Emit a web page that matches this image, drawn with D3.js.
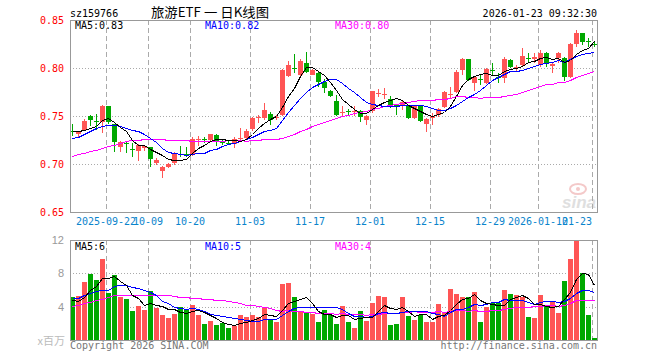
<!DOCTYPE html>
<html>
<head>
<meta charset="utf-8">
<script src="https://cdn.jsdelivr.net/npm/d3@7"></script>
<style>
  body { margin: 0; background: #fff; }
  text { font-family: "DejaVu Sans Mono", monospace; font-size: 10px; }
</style>
</head>
<body>
<svg id="chart" width="660" height="360"></svg>
<script>
// trading days shown on the chart
const dates = [
  '2025-09-12','2025-09-15','2025-09-16','2025-09-17','2025-09-18','2025-09-19',
  '2025-09-22','2025-09-23','2025-09-24','2025-09-25','2025-09-26','2025-09-29','2025-09-30',
  '2025-10-09','2025-10-10','2025-10-13','2025-10-14','2025-10-15','2025-10-16','2025-10-17',
  '2025-10-20','2025-10-21','2025-10-22','2025-10-23','2025-10-24','2025-10-27','2025-10-28','2025-10-29','2025-10-30','2025-10-31',
  '2025-11-03','2025-11-04','2025-11-05','2025-11-06','2025-11-07','2025-11-10','2025-11-11','2025-11-12','2025-11-13','2025-11-14',
  '2025-11-17','2025-11-18','2025-11-19','2025-11-20','2025-11-21','2025-11-24','2025-11-25','2025-11-26','2025-11-27','2025-11-28',
  '2025-12-01','2025-12-02','2025-12-03','2025-12-04','2025-12-05','2025-12-08','2025-12-09','2025-12-10','2025-12-11','2025-12-12',
  '2025-12-15','2025-12-16','2025-12-17','2025-12-18','2025-12-19','2025-12-22','2025-12-23','2025-12-24','2025-12-25','2025-12-26',
  '2025-12-29','2025-12-30','2025-12-31','2026-01-05','2026-01-06','2026-01-07','2026-01-08','2026-01-09',
  '2026-01-12','2026-01-13','2026-01-14','2026-01-15','2026-01-16','2026-01-19','2026-01-20','2026-01-21','2026-01-22',
  '2026-01-23'
];

const open = [
  0.734,0.731,0.7354,0.750,0.7445,0.744,0.760,0.7415,0.718,0.7222,
  0.716,0.7136,0.7168,0.718,0.7007,0.693,0.6965,0.7007,0.7105,0.710,
  0.7105,0.7258,0.7265,0.725,0.7305,0.723,0.7222,0.7212,0.7262,0.727,
  0.736,0.748,0.748,0.7524,0.7486,0.7514,0.792,0.8005,0.793,0.8052,
  0.793,0.7948,0.785,0.7764,0.7653,0.7538,0.7552,0.7549,0.7549,0.7462,
  0.7549,0.7738,0.7725,0.7677,0.761,0.760,0.760,0.7479,0.760,0.7417,
  0.7476,0.751,0.759,0.7725,0.7753,0.798,0.809,0.7847,0.7885,0.7847,
  0.7975,0.7906,0.7892,0.8083,0.800,0.8031,0.8102,0.809,0.8031,0.8153,
  0.8021,0.810,0.810,0.7903,0.825,0.8361,0.8278,0.8253
];
const high = [
  0.742,0.734,0.7465,0.751,0.752,0.7615,0.7605,0.742,0.7235,0.723,
  0.7215,0.7205,0.7192,0.718,0.7065,0.6975,0.701,0.7125,0.719,0.718,
  0.7278,0.729,0.7285,0.7315,0.731,0.725,0.7235,0.728,0.7375,0.7365,
  0.749,0.7515,0.7635,0.754,0.7514,0.799,0.807,0.815,0.8094,0.8163,
  0.7985,0.7955,0.789,0.7775,0.7722,0.7608,0.7573,0.7608,0.756,0.751,
  0.7757,0.778,0.7792,0.7712,0.7618,0.7653,0.7608,0.7608,0.7608,0.7476,
  0.7528,0.758,0.7764,0.7806,0.798,0.810,0.8097,0.7917,0.7927,0.7997,
  0.805,0.7951,0.8118,0.809,0.8031,0.8205,0.8153,0.8153,0.8188,0.817,
  0.8066,0.817,0.8118,0.826,0.8396,0.8368,0.8309,0.8285
];
const low = [
  0.729,0.728,0.7344,0.740,0.7354,0.7326,0.742,0.713,0.7125,0.711,
  0.7076,0.7034,0.714,0.6965,0.699,0.6857,0.6955,0.699,0.707,0.707,
  0.7085,0.719,0.722,0.7225,0.719,0.720,0.7205,0.7167,0.725,0.7253,
  0.734,0.7427,0.746,0.741,0.7462,0.7504,0.7906,0.7948,0.792,0.7948,
  0.7925,0.780,0.774,0.770,0.7497,0.7503,0.7514,0.7503,0.7434,0.741,
  0.7531,0.7698,0.7677,0.7583,0.7514,0.7559,0.7469,0.7469,0.7434,0.7337,
  0.7406,0.7493,0.758,0.7684,0.7743,0.7927,0.7868,0.7764,0.7823,0.7833,
  0.7927,0.784,0.784,0.7997,0.7962,0.8014,0.8056,0.8049,0.8014,0.8014,
  0.7944,0.8049,0.7868,0.7892,0.8222,0.824,0.8222,0.8222
];
const close = [
  0.733,0.733,0.745,0.7455,0.744,0.760,0.744,0.723,0.7225,0.7212,
  0.7148,0.7196,0.7188,0.705,0.7045,0.6972,0.700,0.7118,0.7098,0.7095,
  0.7265,0.7265,0.7258,0.731,0.7225,0.7222,0.7218,0.7264,0.7268,0.7347,
  0.748,0.749,0.7566,0.7455,0.7492,0.7976,0.8035,0.7998,0.8076,0.7958,
  0.7976,0.785,0.7792,0.7705,0.7514,0.7545,0.7547,0.7555,0.749,0.7503,
  0.7757,0.7742,0.7731,0.7608,0.7605,0.7642,0.7479,0.760,0.7444,0.7465,
  0.750,0.757,0.7753,0.7732,0.7962,0.809,0.7875,0.7903,0.788,0.7986,
  0.797,0.790,0.809,0.8007,0.8007,0.8125,0.8098,0.8118,0.8153,0.8056,
  0.8042,0.8153,0.7903,0.825,0.8361,0.8274,0.827,0.8247
];
// volume, millions
const volume = [
  5.12,5.32,6.92,7.96,7.16,9.68,5.68,7.76,5.12,4.96,
  3.52,4.04,3.64,5.84,3.8,2.96,2.6,3.16,4.0,3.64,
  4.16,3.04,1.92,2.32,1.76,2.0,1.48,1.64,3.04,2.72,
  3.04,2.8,3.8,2.56,2.2,6.68,6.8,5.2,3.52,3.36,
  3.16,2.12,3.64,3.04,1.96,4.12,2.2,1.48,3.52,2.32,
  4.48,5.32,5.2,1.84,1.96,5.2,2.92,2.44,3.0,2.2,
  2.12,4.36,3.28,6.16,5.56,5.12,5.12,5.8,2.2,4.0,
  4.48,4.48,6.04,5.56,5.44,5.2,2.8,2.68,5.44,4.24,
  4.72,3.28,7.12,9.68,11.84,8.08,3.04,0.28
];

// MA values at the left edge (they depend on days before the window)
const ma5Head = [0.734,0.7345,0.7358,0.738];
const ma10Head = [0.7267,0.7285,0.731,0.734,0.737,0.7395,0.7406,0.7403,0.7395];
const ma30Head = [
  0.7087,0.7103,0.7119,0.7135,0.7151,0.7167,0.7185,0.7203,0.7222,0.7235,
  0.7247,0.7255,0.726,0.726,0.726,0.7258,0.7252,0.7248,0.7245,0.7245,
  0.7243,0.7243,0.7243,0.7243,0.7243,0.7243,0.7245,0.7247,0.725
];
const vma5Head = [4.8,4.7,5.2,6.0];
const vma10Head = [5.0,5.1,5.35,5.7,5.85,6.0,6.05,6.5,6.6];
const vma30Head = [
  4.1,4.25,4.4,4.55,4.75,4.95,5.15,5.35,5.45,5.45,
  5.45,5.45,5.45,5.45,5.42,5.38,5.35,5.3,5.22,5.15,
  5.08,5.0,4.95,4.88,4.82,4.75,4.65,4.55,4.45
];

const priceTicks = [0.65, 0.70, 0.75, 0.80, 0.85];
const volTicks = [4, 8, 12];
const dateTicks = ['2025-09-22','2025-10-09','2025-10-20','2025-11-03','2025-11-17',
  '2025-12-01','2025-12-15','2025-12-29','2026-01-12','2026-01-23'];

const RED = '#ff5555', GREEN = '#00a800';
const left = 70, right = 598;
const mainTop = 20, mainBottom = 212;
const volTop = 240, volBottom = 340;

function movingAvg(values, n, head) {
  return values.map((v, i) => i < head.length ? head[i] : d3.mean(values.slice(i - n + 1, i + 1)));
}

const svg = d3.select('#chart');

const x = d3.scaleBand().domain(dates).range([left, right]);
const y = d3.scaleLinear().domain([0.65, 0.85]).range([mainBottom, mainTop]);
const yv = d3.scaleLinear().domain([0, 12]).range([volBottom, volTop]);

const bars = dates.map((d, i) => ({ d, o: open[i], h: high[i], l: low[i], c: close[i], v: volume[i] }));
const colorOf = b => b.c >= b.o ? RED : GREEN;
const px = v => Math.round(v);

// watermark
const wm = svg.append('g').attr('opacity', 0.9);
wm.append('ellipse').attr('cx', 578).attr('cy', 189).attr('rx', 8).attr('ry', 5)
  .attr('fill', 'none').attr('stroke', '#f3c4c4').attr('stroke-width', 2);
wm.append('circle').attr('cx', 578).attr('cy', 189).attr('r', 2).attr('fill', '#f3c4c4');
wm.append('text').attr('x', 562).attr('y', 208).text('sina')
  .style('font-family', 'Liberation Sans, sans-serif').style('font-size', '17px')
  .style('font-style', 'italic').style('font-weight', 'bold').attr('fill', '#dcdcdc');

// grid lines
function grid(top, bottom, yScale, ticks) {
  const g = svg.append('g').attr('shape-rendering', 'crispEdges');
  g.selectAll('line.v').data(dateTicks).join('line')
    .attr('x1', d => x(d) + 0.5).attr('x2', d => x(d) + 0.5)
    .attr('y1', top).attr('y2', bottom)
    .attr('stroke', '#aaa').attr('stroke-dasharray', '5,3');
  g.selectAll('line.h').data(ticks).join('line')
    .attr('x1', left).attr('x2', right - 1)
    .attr('y1', d => px(yScale(d)) + 0.5).attr('y2', d => px(yScale(d)) + 0.5)
    .attr('stroke', '#aaa').attr('stroke-dasharray', '1,2');
}
grid(mainTop, mainBottom, y, [0.70, 0.75, 0.80]);
grid(volTop, volBottom, yv, [4, 8]);

// candles
const cg = svg.append('g').attr('shape-rendering', 'crispEdges');
cg.selectAll('rect.wick').data(bars).join('rect')
  .attr('x', b => x(b.d) + 2).attr('width', 1)
  .attr('y', b => px(y(b.h)))
  .attr('height', b => Math.max(1, px(y(b.l)) - px(y(b.h))))
  .attr('fill', colorOf);
cg.selectAll('rect.body').data(bars).join('rect')
  .attr('x', b => x(b.d)).attr('width', x.bandwidth() - 1)
  .attr('y', b => px(y(Math.max(b.o, b.c))))
  .attr('height', b => Math.max(1, px(y(Math.min(b.o, b.c))) - px(y(Math.max(b.o, b.c)))))
  .attr('fill', colorOf);

// volume bars
cg.selectAll('rect.vol').data(bars).join('rect')
  .attr('x', b => x(b.d)).attr('width', x.bandwidth() - 1)
  .attr('y', b => px(yv(b.v)))
  .attr('height', b => volBottom - px(yv(b.v)))
  .attr('fill', colorOf);

// moving averages
const ma = {
  p5: movingAvg(close, 5, ma5Head), p10: movingAvg(close, 10, ma10Head), p30: movingAvg(close, 30, ma30Head),
  v5: movingAvg(volume, 5, vma5Head), v10: movingAvg(volume, 10, vma10Head), v30: movingAvg(volume, 30, vma30Head)
};
const mg = svg.append('g').attr('fill', 'none').attr('shape-rendering', 'crispEdges');
const lineP = d3.line().x((d, i) => x(dates[i]) + 2.5).y(d => px(y(d)) + 0.5);
const lineV = d3.line().x((d, i) => x(dates[i]) + 2.5).y(d => px(yv(d)) + 0.5);
[['p30', '#ff00ff'], ['p10', '#0000ff'], ['p5', '#000']].forEach(([k, c]) =>
  mg.append('path').attr('d', lineP(ma[k])).attr('stroke', c));
[['v30', '#ff00ff'], ['v10', '#0000ff'], ['v5', '#000']].forEach(([k, c]) =>
  mg.append('path').attr('d', lineV(ma[k])).attr('stroke', c));

// frames
const fr = svg.append('g').attr('fill', 'none').attr('stroke', '#999').attr('shape-rendering', 'crispEdges');
fr.append('rect').attr('x', left + 0.5).attr('y', mainTop + 0.5).attr('width', right - left - 1).attr('height', mainBottom - mainTop);
fr.append('rect').attr('x', left + 0.5).attr('y', volTop + 0.5).attr('width', right - left - 1).attr('height', volBottom - volTop);

// axes
const ya = svg.append('g').attr('transform', `translate(${left},0)`)
  .call(d3.axisLeft(y).tickValues(priceTicks).tickFormat(d3.format('.2f')).tickSize(0).tickPadding(6));
ya.select('.domain').remove();
ya.selectAll('text').attr('fill', '#f00').style('font-size', '10px').style('font-family', 'DejaVu Sans Mono, monospace');

const va = svg.append('g').attr('transform', `translate(${left},0)`)
  .call(d3.axisLeft(yv).tickValues(volTicks).tickSize(0).tickPadding(6));
va.select('.domain').remove();
va.selectAll('text').attr('fill', '#999').style('font-size', '11px').style('font-family', 'Liberation Sans, sans-serif');
svg.append('text').attr('x', 65).attr('y', 341).attr('dy', '0.35em').attr('text-anchor', 'end')
  .attr('fill', '#bbb').style('font-size', '11px').style('font-family', 'Noto Sans CJK SC, sans-serif').text('x百万');

const xa = svg.append('g').attr('transform', `translate(${-x.bandwidth() / 2},${mainBottom})`)
  .call(d3.axisBottom(x).tickValues(dateTicks).tickSize(0).tickPadding(6)
    .tickFormat((d, i) => (i === 0 || d.slice(0, 4) !== dateTicks[i - 1].slice(0, 4)) ? d : d.slice(5)));
xa.select('.domain').remove();
xa.selectAll('text').attr('fill', '#0a84cc').style('font-size', '10px').style('font-family', 'DejaVu Sans Mono, monospace');
xa.selectAll('.tick').filter((d, i) => i === dateTicks.length - 1).select('text')
  .attr('text-anchor', 'end').attr('x', 0);

// legends
const fmtP = v => v.toFixed(2);
const fmtV = v => String(Math.floor(v));
const last = a => a[a.length - 1];
const legend = (yy, k5, k10, k30, fmt) => {
  svg.append('text').attr('x', 75).attr('y', yy).attr('fill', '#000').text('MA5:' + fmt(last(ma[k5])));
  svg.append('text').attr('x', 205).attr('y', yy).attr('fill', '#0000ff').text('MA10:' + fmt(last(ma[k10])));
  svg.append('text').attr('x', 335).attr('y', yy).attr('fill', '#ff00ff').text('MA30:' + fmt(last(ma[k30])));
};
legend(29, 'p5', 'p10', 'p30', fmtP);
legend(250, 'v5', 'v10', 'v30', fmtV);

// header and footer
svg.append('text').attr('x', 70).attr('y', 16.5).attr('fill', '#000').text('sz159766');
svg.append('text').attr('x', 210).attr('y', 16.5).attr('text-anchor', 'middle').attr('fill', '#000')
  .style('font-family', 'Noto Sans CJK SC, sans-serif').style('font-size', '13px')
  .attr('textLength', 118).attr('lengthAdjust', 'spacingAndGlyphs').text('旅游ETF 一 日K线图');
svg.append('text').attr('x', 597).attr('y', 16.5).attr('text-anchor', 'end').attr('fill', '#000').text('2026-01-23 09:32:30');
svg.append('text').attr('x', 70).attr('y', 349).attr('fill', '#777').text('Copyright 2026 SINA.COM');
svg.append('text').attr('x', 597).attr('y', 349).attr('text-anchor', 'end').attr('fill', '#777').text('http://finance.sina.com.cn');
</script>
</body>
</html>
